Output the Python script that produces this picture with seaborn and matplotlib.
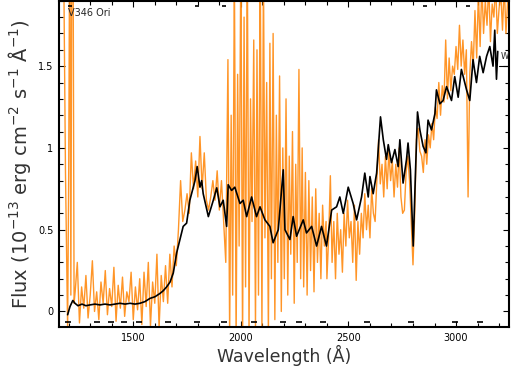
import numpy as np
import pandas as pd
import matplotlib
matplotlib.use("Agg")
import matplotlib.pyplot as plt
from matplotlib.ticker import MultipleLocator, FixedFormatter, FixedLocator
import seaborn as sns

sns.set_theme(style="ticks")
plt.rcParams["font.family"] = ["DejaVu Sans"]

dpi = 100
xsize = 511
ysize = 372

star = "V346 Ori"

# smoothed spectrum (black)
smooth_wave = [1195, 1206, 1219, 1229, 1243, 1262, 1280, 1299, 1322, 1345, 1369, 1392, 1415, 1438,
               1462, 1485, 1508, 1531, 1554, 1578, 1601, 1624, 1638, 1655, 1671, 1686, 1702, 1717,
               1732, 1748, 1763, 1779, 1787, 1797, 1810, 1818, 1825, 1849, 1872, 1888, 1903, 1918,
               1934, 1941, 1957, 1972, 1996, 2011, 2027, 2050, 2073, 2089, 2112, 2135, 2150, 2174,
               2197, 2205, 2228, 2243, 2259, 2290, 2305, 2329, 2352, 2375, 2398, 2422, 2445, 2460,
               2476, 2499, 2522, 2538, 2561, 2576, 2592, 2600, 2615, 2631, 2649, 2662, 2677, 2685,
               2700, 2716, 2731, 2739, 2754, 2770, 2777, 2788, 2801, 2812, 2821, 2832, 2847, 2860,
               2870, 2886, 2902, 2909, 2925, 2940, 2956, 2979, 2994, 3010, 3025, 3049, 3064, 3079,
               3095, 3110, 3126, 3142, 3157, 3172, 3180, 3188, 3194]
smooth_flux = [-0.02, 0.03, 0.067, 0.05, 0.035, 0.045, 0.035, 0.04, 0.045, 0.04, 0.045, 0.04, 0.045, 0.05,
               0.045, 0.05, 0.045, 0.05, 0.06, 0.08, 0.09, 0.11, 0.125, 0.15, 0.18, 0.235, 0.36, 0.44,
               0.52, 0.54, 0.68, 0.76, 0.80, 0.886, 0.76, 0.80, 0.72, 0.58, 0.68, 0.756, 0.64, 0.68,
               0.52, 0.775, 0.74, 0.76, 0.66, 0.68, 0.58, 0.70, 0.58, 0.64, 0.56, 0.52, 0.42, 0.50,
               0.866, 0.50, 0.44, 0.58, 0.46, 0.56, 0.48, 0.52, 0.40, 0.52, 0.40, 0.62, 0.64, 0.70,
               0.60, 0.76, 0.66, 0.56, 0.70, 0.846, 0.70, 0.825, 0.72, 0.846, 1.19, 1.05, 0.93, 1.02,
               0.91, 0.99, 0.886, 1.05, 0.785, 0.93, 1.03, 0.866, 0.40, 0.866, 1.22, 1.11, 1.01, 0.97,
               1.17, 1.11, 1.21, 1.355, 1.27, 1.29, 1.375, 1.29, 1.436, 1.31, 1.48, 1.355, 1.29, 1.54,
               1.40, 1.56, 1.46, 1.56, 1.62, 1.50, 1.72, 1.42, 1.59]

# raw spectrum (orange)
raw_wave = [1165, 1175, 1185, 1195, 1200, 1205, 1210, 1215, 1220, 1225,
            1230, 1240, 1250, 1260, 1270, 1280, 1290, 1300, 1310, 1320, 1330, 1340, 1350, 1360,
            1370, 1380, 1390, 1400, 1410, 1420, 1430, 1440, 1450, 1460, 1470, 1480, 1490, 1500,
            1510, 1520, 1530, 1540, 1550, 1560, 1570, 1580, 1590, 1600, 1610, 1620, 1630, 1640,
            1650, 1660, 1670, 1680, 1690, 1700, 1710, 1720, 1730, 1740, 1750, 1760, 1770, 1780,
            1790, 1800, 1810, 1820, 1830, 1840, 1850, 1860, 1870, 1880, 1890, 1900, 1910, 1920,
            1930, 1940, 1948, 1955, 1962, 1970, 1978, 1985, 1992, 2000, 2008, 2015, 2022, 2030,
            2038, 2045, 2052, 2060, 2068, 2075, 2082, 2090, 2098, 2105, 2112, 2120, 2128, 2135,
            2142, 2150, 2158, 2165, 2172, 2180, 2188, 2195, 2202, 2210, 2218, 2225, 2232, 2240,
            2248, 2255, 2262, 2270, 2278, 2285, 2292, 2300, 2308, 2316, 2324, 2332, 2340, 2348,
            2356, 2364, 2372, 2380, 2388, 2396, 2400, 2408, 2416, 2424, 2432, 2440, 2448, 2456,
            2464, 2472, 2480, 2488, 2496, 2504, 2512, 2520, 2528, 2536, 2544, 2552, 2560, 2568,
            2576, 2584, 2592, 2600, 2608, 2616, 2624, 2632, 2640, 2648, 2656, 2664, 2672, 2680,
            2688, 2696, 2704, 2712, 2720, 2728, 2736, 2744, 2752, 2760, 2768, 2776, 2784, 2792,
            2800, 2808, 2816, 2824, 2832, 2840, 2848, 2856, 2864, 2872, 2880, 2888, 2896, 2904,
            2912, 2920, 2928, 2936, 2944, 2952, 2960, 2968, 2976, 2984, 2992, 3000, 3008, 3016,
            3024, 3032, 3040, 3048, 3056, 3064, 3072, 3080, 3088, 3096, 3104, 3112, 3120, 3128,
            3136, 3144, 3152, 3160, 3168, 3176, 3184, 3192, 3200, 3208, 3216, 3224, 3232, 3240]
raw_flux = [2.5, 2.4, 0.85, -0.1, 0.85, 2.5, 0.10, 2.5, 2.4, 0.05,
            0.12, 0.30, -0.07, 0.15, 0.02, 0.22, -0.04, 0.10, 0.31, 0.00, 0.12, -0.05, 0.18, 0.05,
            0.25, -0.02, 0.14, 0.03, 0.27, -0.06, 0.16, 0.02, 0.21, -0.03, 0.12, 0.06, 0.24, -0.05,
            0.15, 0.01, 0.20, -0.08, 0.24, 0.03, 0.30, -0.09, 0.18, 0.05, 0.35, -0.10, 0.22, 0.06,
            0.28, 0.05, 0.35, 0.15, 0.40, 0.28, 0.50, 0.80, 0.55, 0.62, 0.72, 0.60, 0.97, 0.75,
            0.92, 0.70, 1.07, 0.75, 0.97, 0.68, 0.62, 0.70, 0.80, 0.68, 0.86, 0.62, 0.80, 0.55,
            0.30, 1.54, -0.15, 1.20, 0.10, 2.10, -0.20, 1.45, 0.40, 2.20, -0.20, 1.80, 0.15, 2.20,
            -0.15, 1.30, 0.55, 1.66, -0.10, 1.60, 0.10, 2.20, -0.12, 2.10, 0.45, 1.40, -0.15, 1.64,
            0.20, 1.70, -0.05, 1.20, 0.30, 1.44, 0.00, 1.00, 0.20, 1.30, 0.10, 0.95, 0.35, 1.10,
            0.05, 0.90, 0.30, 1.48, 0.20, 1.00, 0.15, 0.85, 0.10, 0.80, 0.25, 0.70, 0.12, 0.75,
            0.30, 0.60, 0.20, 0.65, 0.40, 0.55, 0.20, 0.45, 0.83, 0.30, 0.55, 0.20, 0.60, 0.35,
            0.50, 0.24, 0.60, 0.40, 0.68, 0.45, 0.55, 0.30, 0.65, 0.19, 0.55, 0.35, 0.60, 0.45,
            0.72, 0.50, 0.65, 0.45, 0.75, 0.60, 0.55, 0.80, 1.05, 0.78, 0.90, 0.70, 0.95, 0.75,
            0.98, 0.80, 0.92, 0.70, 0.90, 0.76, 1.00, 0.70, 0.60, 0.62, 0.85, 0.95, 0.80, 0.55,
            0.285, 0.60, 1.05, 1.12, 0.98, 0.95, 0.85, 1.05, 0.90, 1.08, 1.00, 1.15, 1.05, 1.25,
            1.18, 1.40, 1.20, 1.38, 1.28, 1.66, 1.30, 1.55, 1.35, 1.50, 1.45, 1.62, 1.48, 1.75,
            1.50, 1.66, 1.45, 1.60, 0.70, 1.45, 1.65, 1.50, 1.84, 1.55, 1.95, 1.62, 2.00, 1.70,
            1.90, 1.75, 2.00, 1.65, 1.88, 1.80, 2.00, 1.70, 1.85, 1.95, 1.72, 2.00, 1.70, 1.90]

# flag markers along the frame
flags_bottom = [1197, 1330, 1397, 1457, 1527, 1661, 1795, 1921, 2061, 2196, 2270, 2381,
                2586, 2790, 2994, 3111]
flags_top = [1206, 1796, 1921, 2855, 3055]

xticks = [1500, 2000, 2500, 3000]
yticks = [0, 0.5, 1, 1.5]
ytick_labels = ["0", "0.5", "1", "1.5"]

smooth = pd.DataFrame({"wave": smooth_wave, "flux": smooth_flux})
raw = pd.DataFrame({"wave": raw_wave, "flux": raw_flux})

fig = plt.figure(figsize=(xsize / dpi, ysize / dpi), dpi=dpi)
ax = fig.add_axes([0.1155, 0.121, 0.8805, 0.877])

sns.lineplot(x="wave", y="flux", data=raw, ax=ax, color="#ff8a10", lw=1.0, alpha=0.9)
sns.lineplot(x="wave", y="flux", data=smooth, ax=ax, color="black", lw=1.2)

ax.plot(flags_bottom, [0.015] * len(flags_bottom), ls="none", marker="_", ms=4, mew=1.2,
        color="black", transform=ax.get_xaxis_transform())
ax.plot(flags_top, [0.985] * len(flags_top), ls="none", marker="_", ms=3, mew=1.2,
        color="black", transform=ax.get_xaxis_transform())

ax.set_xlim(1155, 3246)
ax.set_ylim(-0.095, 1.9)

ax.xaxis.set_major_locator(FixedLocator(xticks))
ax.xaxis.set_minor_locator(MultipleLocator(100))
ax.yaxis.set_major_locator(FixedLocator(yticks))
ax.yaxis.set_major_formatter(FixedFormatter(ytick_labels))
ax.yaxis.set_minor_locator(MultipleLocator(0.1))
ax.tick_params(which="both", direction="in", top=True, right=True, color="black",
               labelsize=7, labelcolor="black", pad=4)
ax.tick_params(which="major", length=4, width=0.8)
ax.tick_params(which="minor", length=3, width=0.8)
for s in ax.spines.values():
    s.set_linewidth(1.5)
    s.set_color("black")

ax.axhline(1.5, xmin=0.978, xmax=1.0, color="black", lw=0.8)
ax.text(0.991, 0.83, "W", transform=ax.transAxes, fontsize=6, ha="center", va="center")
ax.text(0.02, 0.963, star, transform=ax.transAxes, fontsize=7, ha="left", va="center")

ax.set_xlabel("Wavelength (Å)", fontsize=12.5, color="0.2", labelpad=2)
ax.set_ylabel("Flux (10$^{-13}$ erg cm$^{-2}$ s$^{-1}$ Å$^{-1}$)", fontsize=14, color="0.2",
              labelpad=4)

fig.savefig("out.png", dpi=dpi)
